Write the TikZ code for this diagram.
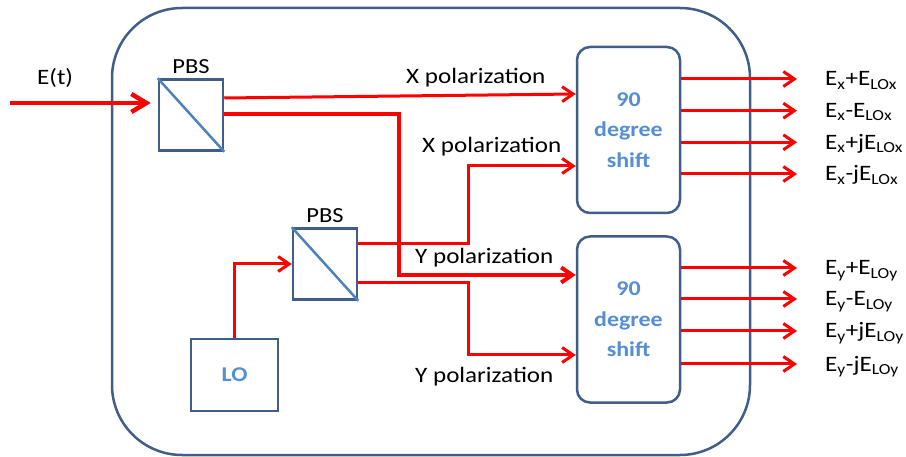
\documentclass[tikz,border=0pt]{standalone}
\usepackage{fontspec}
\setmainfont{Carlito}[FakeStretch=1.14]
\usetikzlibrary{arrows.meta, positioning}
\definecolor{azulpizarra}{HTML}{3F5F8A}
\definecolor{azulmedio}{HTML}{4F81BD}
\definecolor{azulclaro}{HTML}{558ED5}
\definecolor{rojohaz}{HTML}{FF0000}
\colorlet{colMarco}{azulpizarra}
\colorlet{colDivisor}{azulmedio}
\colorlet{colTexto}{azulclaro}
\colorlet{colHaz}{rojohaz}
\tikzset{
  cajaBase/.style={
    draw=colMarco, line width=2.5pt, fill=white, inner sep=0pt
  },
  cajaPBS/.style={cajaBase, minimum width=64pt, minimum height=71pt},
  cajaDesfase/.style={cajaBase, rounded corners=13pt,
    minimum width=103pt, minimum height=166pt, align=center,
    font=\fontsize{21}{30.5}\selectfont\bfseries, text=colTexto},
  cajaLO/.style={cajaBase, minimum width=87pt, minimum height=72pt,
    font=\fontsize{21}{25}\selectfont\bfseries, text=colTexto},
  marco/.style={draw=colMarco, line width=2.5pt, rounded corners=70pt},
  divisor/.style={colDivisor, line width=2.5pt},
  flecha/.style={-{Straight Barb[length=11pt,width=15pt]}, colHaz, line width=3pt},
  flechaGruesa/.style={flecha, line width=4pt},
  flechaEntrada/.style={-{Straight Barb[length=15pt,width=18pt]}, colHaz, line width=4.5pt},
  etiqueta/.style={font=\fontsize{22}{26}\selectfont, inner sep=0pt, anchor=base west},
  etiquetaPBS/.style={font=\fontsize{21.5}{25}\selectfont, inner sep=0pt},
}

\begin{document}
\begin{tikzpicture}[x=1pt, y=-1pt]
    \useasboundingbox (0,0) rectangle (906,457);
    \draw[marco] (112,8) rectangle (750,455);

    % divisores y bloques
    \node[cajaPBS] (pbsA) at (191,115) {};
    \node[cajaPBS] (pbsB) at (325,264) {};
    \node[cajaLO] (lo) at (234.5,375) {LO};
    \node[cajaDesfase] (desfX) at (628.5,130) {90\\degree\\shift};
    \node[cajaDesfase] (desfY) at (628.5,319.5) {90\\degree\\shift};
    \draw[divisor] (pbsA.north west) -- (pbsA.south east);
    \draw[divisor] (pbsB.north west) -- (pbsB.south east);
    \node[etiquetaPBS, above=4pt of pbsA] (etPbsA) {PBS};
    \node[etiquetaPBS, above=4pt of pbsB] (etPbsB) {PBS};

    % entrada
    \coordinate (entrada) at (10,103);
    \node[etiqueta] (etEntrada) at (37,85) {E(t)};
    \draw[flechaEntrada, shorten >=7pt] (entrada) -- (entrada -| pbsA.west);

    % haces
    \draw[flecha] ([yshift=17pt]pbsA.east) -- ([yshift=36pt]desfX.west);
    \draw[flechaGruesa] ([yshift=1pt]pbsA.east) -- ++(175,0) |- ([yshift=44.5pt]desfY.west);
    \draw[flecha] (lo.north) |- (pbsB.west);
    \draw[flecha] ([yshift=20pt]pbsB.east) -- ++(110,0) |- ([yshift=-36pt]desfX.west);
    \draw[flecha] ([yshift=-19pt]pbsB.east) -- ++(110,0) |- ([yshift=-35.5pt]desfY.west);

    \node[etiqueta] (polX1) at (406,84) {X polarization};
    \node[etiqueta] (polX2) at (422,153) {X polarization};
    \node[etiqueta] (polY1) at (415,264) {Y polarization};
    \node[etiqueta] (polY2) at (415,382) {Y polarization};

    % salidas
    \foreach \yy/\txt [count=\i] in {79/E\textsubscript{x}+E\textsubscript{LOx},
        110.7/E\textsubscript{x}-E\textsubscript{LOx},
        142.3/E\textsubscript{x}+jE\textsubscript{LOx},
        174/E\textsubscript{x}-jE\textsubscript{LOx}} {
      \coordinate (salX\i) at (797,\yy);
      \draw[flecha] (desfX.east |- salX\i) -- (salX\i);
      \node[etiqueta] (etSalX\i) at ([shift={(28,7)}]salX\i) {\txt};
    }
    \foreach \yy/\txt [count=\i] in {268/E\textsubscript{y}+E\textsubscript{LOy},
        299/E\textsubscript{y}-E\textsubscript{LOy},
        331/E\textsubscript{y}+jE\textsubscript{LOy},
        364/E\textsubscript{y}-jE\textsubscript{LOy}} {
      \coordinate (salY\i) at (797,\yy);
      \draw[flecha] (desfY.east |- salY\i) -- (salY\i);
      \node[etiqueta] (etSalY\i) at ([shift={(28,7)}]salY\i) {\txt};
    }
\end{tikzpicture}
\end{document}
